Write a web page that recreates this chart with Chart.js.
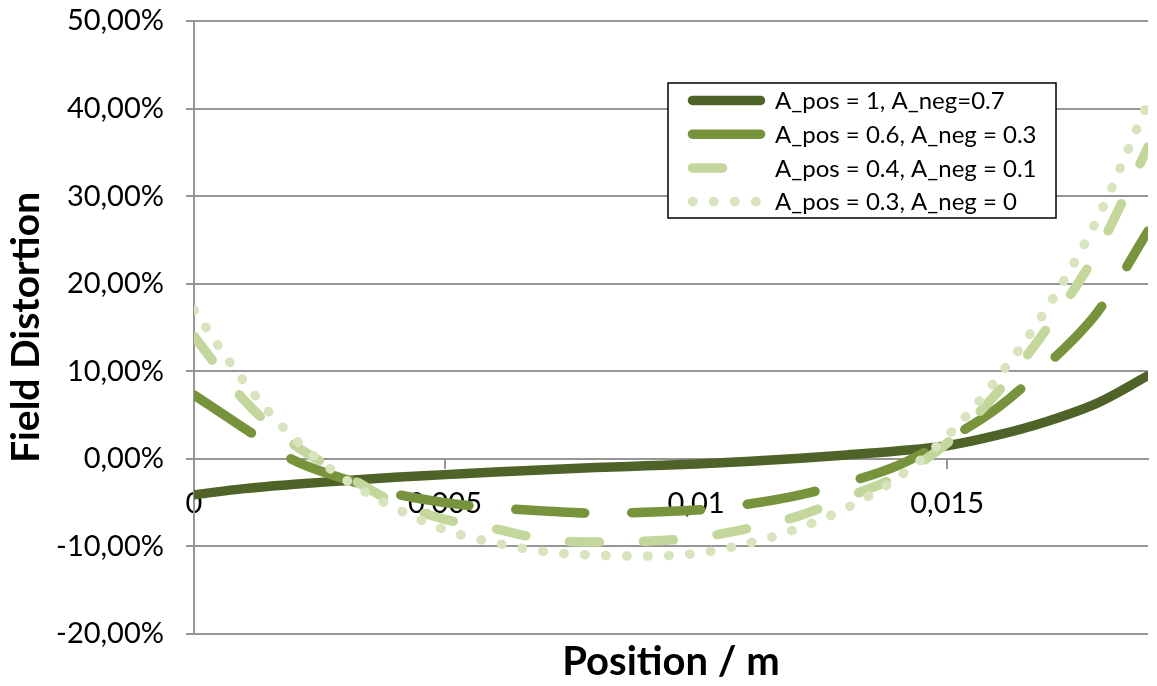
<!DOCTYPE html>
<html>
<head>
<meta charset="utf-8">
<script src="https://cdn.jsdelivr.net/npm/chart.js@4.4.1/dist/chart.umd.min.js"></script>
<style>
  html, body { margin: 0; padding: 0; background: #fff; }
  #wrap { width: 1157px; height: 686px; position: relative; }
</style>
</head>
<body>
<div id="wrap"><canvas id="chart"></canvas></div>
<script>
// position along the sample (m)
const positions = [0, 0.001, 0.002, 0.003, 0.004, 0.005, 0.006, 0.007, 0.008, 0.009,
  0.010, 0.011, 0.012, 0.013, 0.014, 0.015, 0.016, 0.017, 0.018, 0.019];

// field distortion in %
const pos1neg07 = [-4.1, -3.4, -2.9, -2.5, -2.1, -1.8, -1.5, -1.25, -1.0, -0.8,
  -0.6, -0.3, 0.05, 0.45, 0.9, 1.5, 2.7, 4.3, 6.4, 9.5];
const pos06neg03 = [7.3, 3.5, -0.2, -2.3, -4.0, -5.0, -5.6, -5.95, -6.2, -6.1,
  -5.85, -5.2, -4.2, -2.7, -0.8, 2.2, 5.8, 10.8, 16.8, 26.0];
const pos04neg01 = [14.0, 6.7, 1.6, -1.8, -5.0, -6.9, -8.0, -9.2, -9.5, -9.4,
  -9.0, -8.0, -6.6, -4.4, -2.0, 1.8, 7.6, 15.0, 23.8, 35.6];
const pos03neg0 = [17.0, 8.8, 2.3, -2.3, -5.6, -8.1, -9.6, -10.6, -11.0, -11.1,
  -10.8, -9.7, -8.0, -5.6, -2.2, 2.6, 9.2, 17.3, 27.5, 40.7];

const seriesLabels = ["A_pos = 1, A_neg=0.7", "A_pos = 0.6, A_neg = 0.3",
  "A_pos = 0.4, A_neg = 0.1", "A_pos = 0.3, A_neg = 0"];

const xTicks = [0, 0.005, 0.01, 0.015];
const yMin = -20, yMax = 50, yStep = 10;

const FONT = "Lato, 'Liberation Sans', sans-serif";
const GRID = "#969696";

function pts(ys) {
  return positions.map((x, i) => ({ x: x, y: ys[i] }));
}

function line(label, ys, color, dash, order) {
  return {
    label: label,
    data: pts(ys),
    borderColor: color,
    backgroundColor: color,
    borderWidth: 9.5,
    borderDash: dash,
    borderCapStyle: "round",
    borderJoinStyle: "round",
    cubicInterpolationMode: "monotone",
    pointRadius: 0,
    fill: false,
    order: order,
  };
}

// legend box drawn inside the plot area
const insideLegend = {
  id: "insideLegend",
  afterDraw(chart) {
    const { ctx, chartArea } = chart;
    const left = chartArea.left + 474, top = chartArea.top + 62;
    const w = 388, h = 135;
    ctx.save();
    ctx.fillStyle = "#fff";
    ctx.fillRect(left, top, w, h);
    ctx.strokeStyle = "#000";
    ctx.lineWidth = 1.5;
    ctx.strokeRect(left, top, w, h);
    chart.data.datasets.forEach((ds, i) => {
      const y = top + 17.5 + i * 33.7;
      ctx.beginPath();
      ctx.setLineDash(ds.borderDash || []);
      ctx.lineWidth = ds.borderWidth;
      ctx.lineCap = "round";
      ctx.strokeStyle = ds.borderColor;
      ctx.moveTo(left + 24.5, y);
      ctx.lineTo(left + 92.5, y);
      ctx.stroke();
      ctx.setLineDash([]);
      ctx.fillStyle = "#000";
      ctx.font = "24px " + FONT;
      ctx.textBaseline = "middle";
      ctx.fillText(ds.label, left + 107, y + 1);
    });
    ctx.restore();
  },
};

new Chart(document.getElementById("chart"), {
  type: "line",
  data: {
    datasets: [
      line(seriesLabels[0], pos1neg07, "#4F6228", [], 4),
      line(seriesLabels[1], pos06neg03, "#77933C", [69, 47], 3),
      line(seriesLabels[2], pos04neg01, "#C3D69B", [30, 44], 2),
      line(seriesLabels[3], pos03neg0, "#D7E4BD", [0.5, 20.5], 1),
    ],
  },
  options: {
    responsive: true,
    maintainAspectRatio: false,
    animation: false,
    layout: { padding: { top: 21, right: 9, bottom: 0, left: 0 } },
    plugins: { legend: { display: false }, tooltip: { enabled: false } },
    scales: {
      // bottom axis only carries the title
      x: {
        type: "linear",
        position: "bottom",
        min: 0,
        max: 0.019,
        ticks: { display: false },
        grid: { display: false },
        border: { display: false },
        title: {
          display: true,
          text: "Position / m",
          color: "#000",
          font: { family: FONT, size: 40, weight: "bold" },
          padding: 0,
        },
        afterFit(s) { s.height = 52; },
      },
      // axis crossing at y = 0 with the tick labels
      x0: {
        type: "linear",
        position: { y: 0 },
        min: 0,
        max: 0.019,
        afterBuildTicks(s) { s.ticks = xTicks.map((v) => ({ value: v })); },
        afterFit(s) { s.height = 0; },
        ticks: {
          color: "#000",
          font: { family: FONT, size: 29 },
          padding: 18,
          maxRotation: 0,
          callback: (v) => String(v).replace(".", ","),
        },
        grid: { display: true, drawOnChartArea: false, drawTicks: true, tickLength: 9, color: GRID, lineWidth: 2 },
        border: { display: true, color: GRID, width: 2 },
      },
      y: {
        min: yMin,
        max: yMax,
        ticks: {
          stepSize: yStep,
          color: "#000",
          font: { family: FONT, size: 29 },
          padding: 22,
          callback: (v) => v.toFixed(2).replace(".", ",") + "%",
        },
        grid: { color: GRID, lineWidth: 2, tickLength: 8 },
        border: { display: true, color: GRID, width: 2 },
        title: {
          display: true,
          text: "Field Distortion",
          color: "#000",
          font: { family: FONT, size: 39, weight: "bold" },
          padding: { top: 3, bottom: 0 },
        },
        afterFit(s) {
          s.width = 194;
          s.paddingTop = 0;
          s.paddingBottom = 0;
        },
      },
    },
  },
  plugins: [insideLegend],
});
</script>
</body>
</html>
